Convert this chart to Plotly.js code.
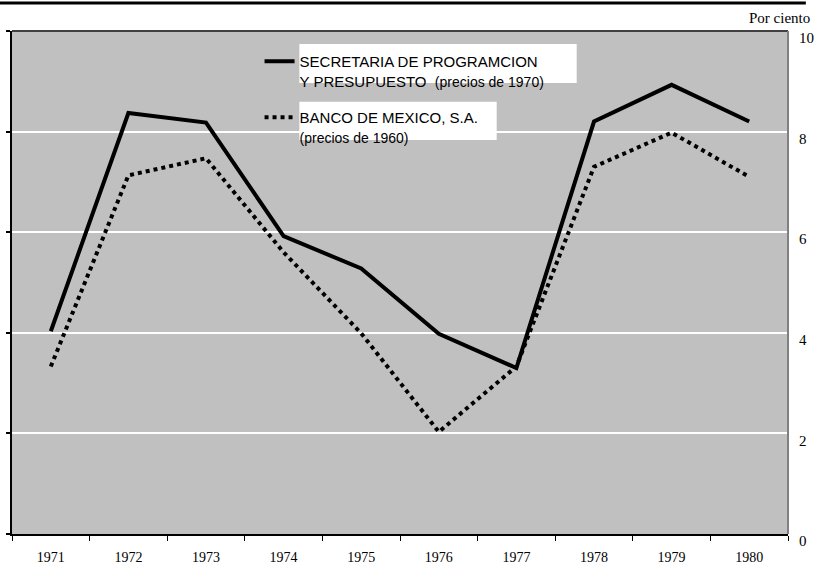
<!DOCTYPE html>
<html>
<head>
<meta charset="utf-8">
<script src="https://cdn.plot.ly/plotly-3.0.1.min.js"></script>
<style>html,body{margin:0;padding:0;background:#fff;}#chart{width:815px;height:570px;}</style>
</head>
<body>
<div id="chart"></div>
<script>
const years = ['1971','1972','1973','1974','1975','1976','1977','1978','1979','1980'];
const sppValues = [4.03, 8.37, 8.18, 5.92, 5.28, 3.98, 3.30, 8.20, 8.93, 8.20];
const banxicoValues = [3.33, 7.13, 7.47, 5.60, 3.99, 2.03, 3.33, 7.30, 7.98, 7.10];
const yTickVals = [0, 2, 4, 6, 8, 10];
const yTickText = ['0', '2', '4', '6', '8', '10'];
const sppName = 'SECRETARIA DE PROGRAMCION<br>Y PRESUPUESTO  <span style="font-size:14px">(precios de 1970)</span>';
const banxicoName = 'BANCO DE MEXICO, S.A.<br><span style="font-size:14px">(precios de 1960)</span>';

const serif = 'Liberation Serif, Times New Roman, serif';
const sans = 'Liberation Sans, Arial, sans-serif';

const traces = [
  {x: years, y: sppValues, type: 'scatter', mode: 'lines', name: sppName, legendgroup: 'a',
   line: {color: '#000', width: 4}},
  {x: years, y: banxicoValues, type: 'scatter', mode: 'lines', name: banxicoName, legendgroup: 'b',
   line: {color: '#000', width: 4, dash: '4px,4px'}},
  {x: years, y: sppValues, type: 'scatter', mode: 'lines', yaxis: 'y2', showlegend: false,
   hoverinfo: 'skip', line: {width: 0}, opacity: 0}
];

const layout = {
  width: 815, height: 570,
  margin: {l: 12, r: 27, t: 31, b: 36},
  paper_bgcolor: '#fff',
  plot_bgcolor: '#c0c0c0',
  showlegend: true,
  legend: {x: 0.319, xanchor: 'left', y: 0.972, yanchor: 'top', bgcolor: 'rgba(0,0,0,0)',
    font: {family: sans, size: 15, color: '#000'}, valign: 'top', tracegroupgap: 14,
    traceorder: 'grouped'},
  xaxis: {type: 'category', range: [-0.5, 9.5], tickson: 'boundaries', ticks: 'outside',
    ticklen: 5, tickwidth: 1, tickcolor: '#000', showline: true, linecolor: '#000', linewidth: 2,
    showgrid: false, tickfont: {family: serif, size: 14, color: '#000'}, ticklabelstandoff: 9,
    fixedrange: true},
  yaxis: {range: [0, 10], tickvals: yTickVals, showticklabels: false, ticks: 'outside', ticklen: 4,
    tickwidth: 2, tickcolor: '#000', showline: true, linecolor: '#000', linewidth: 2,
    showgrid: true, gridcolor: '#fff', gridwidth: 2, zeroline: false, fixedrange: true},
  yaxis2: {overlaying: 'y', side: 'right', range: [0, 10], tickvals: yTickVals, ticktext: yTickText,
    showgrid: false, zeroline: false, showline: false, ticks: '',
    tickfont: {family: serif, size: 15, color: '#000'}, ticklabelstandoff: 10, ticklabelshift: 7,
    fixedrange: true},
  shapes: [
    {type: 'line', xref: 'paper', yref: 'paper', x0: 0, x1: 1, y0: 1, y1: 1, line: {color: '#404040', width: 2}},
    {type: 'line', xref: 'paper', yref: 'paper', x0: 1, x1: 1, y0: 0, y1: 1, line: {color: '#808080', width: 2}},
    {type: 'line', xref: 'paper', yref: 'paper', x0: -0.0155, x1: 1.023, y0: 1.0557, y1: 1.0557, line: {color: '#000', width: 3}},
    {type: 'rect', xref: 'paper', yref: 'paper', x0: 0.3703, x1: 0.7277, y0: 0.8966, y1: 0.974, fillcolor: '#fff', line: {width: 0}, layer: 'above'},
    {type: 'rect', xref: 'paper', yref: 'paper', x0: 0.3703, x1: 0.6246, y0: 0.7833, y1: 0.8594, fillcolor: '#fff', line: {width: 0}, layer: 'above'}
  ],
  annotations: [
    {text: 'Por ciento', xref: 'paper', yref: 'paper', x: 1.031, y: 1.006, xanchor: 'right', yanchor: 'bottom',
     showarrow: false, font: {family: serif, size: 15, color: '#000'}}
  ]
};

Plotly.newPlot('chart', traces, layout, {displayModeBar: false, staticPlot: true});
</script>
</body>
</html>
